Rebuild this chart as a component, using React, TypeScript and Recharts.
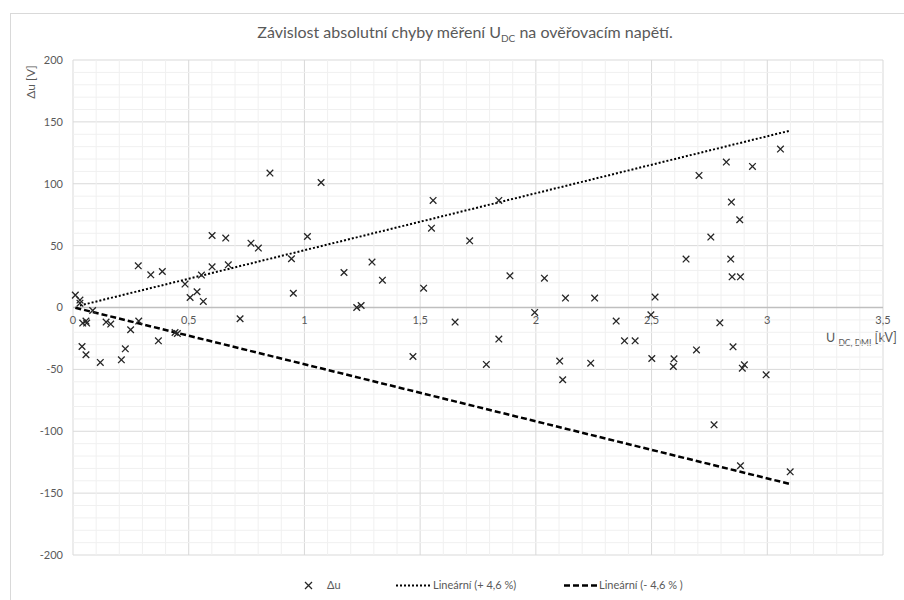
import React from 'react'
import {
  ScatterChart,
  Scatter,
  XAxis,
  YAxis,
  CartesianGrid,
  ReferenceLine,
} from 'recharts'

// measured values: U_DC,DMI [kV] and absolute error Δu [V]
const udc = [
  0.01, 0.03, 0.03, 0.085, 0.042, 0.056, 0.059, 0.143, 0.163, 0.249,
  0.284, 0.369, 0.441, 0.451, 0.039, 0.056, 0.118, 0.226, 0.209, 0.722,
  0.282, 0.336, 0.386, 0.484, 0.506, 0.536, 0.555, 0.563, 0.601, 0.601,
  0.66, 0.671, 0.769, 0.801, 0.851, 0.944, 0.952, 1.013, 1.072, 1.171,
  1.292, 1.337, 1.226, 1.245, 1.515, 1.556, 1.549, 1.714, 1.84, 1.888,
  2.037, 2.128, 2.254, 1.995, 1.651, 1.84, 1.469, 1.786, 2.103, 2.237,
  2.116, 3.057, 2.823, 2.936, 2.705, 2.845, 2.881, 2.756, 2.649, 2.842,
  2.848, 2.884, 2.515, 2.497, 2.347, 2.795, 2.383, 2.429, 2.694, 2.852,
  2.501, 2.597, 2.594, 2.892, 2.901, 2.995, 2.77, 2.884, 3.099,
]
const du = [
  10, 6, 3.5, -2.4, -12.6, -11, -12.6, -11.8, -13.4, -18,
  -11, -26.9, -20.2, -21, -31.5, -38.2, -44.4, -33.4, -42.3, -9.1,
  33.7, 26.4, 29.1, 18.9, 8.1, 12.7, 26.2, 4.9, 58.2, 32.9,
  56.1, 34.5, 52, 48, 108.6, 39.4, 11.5, 57.4, 101, 28.3,
  36.7, 22.1, 0, 1.6, 15.6, 86.5, 64.1, 53.9, 86.5, 25.6,
  23.7, 7.6, 7.6, -4, -11.8, -25.5, -39.6, -46, -43.3, -45,
  -58.4, 128, 117.5, 114, 106.7, 85.2, 70.9, 56.9, 39.1, 39.1,
  24.8, 24.8, 8.4, -5.9, -11, -12.4, -26.9, -26.9, -34.3, -31.8,
  -41.2, -41.5, -47.7, -49, -46.3, -54.4, -94.8, -127.9, -132.8,
]

// trend line end points (+4,6 % / -4,6 %)
const trendPlusX = [0.03, 3.1]
const trendPlusY = [1.6, 143]
const trendMinusX = [0.01, 3.1]
const trendMinusY = [-0.2, -142.7]

const xTicks = [0, 0.5, 1, 1.5, 2, 2.5, 3, 3.5]
const yTicks = [-200, -150, -100, -50, 0, 50, 100, 150, 200]

const xMinor: number[] = []
for (let i = 1; i < 35; i++) if (i % 5 !== 0) xMinor.push(i / 10)
const yMinor: number[] = []
for (let v = -190; v < 200; v += 10) if (v % 50 !== 0) yMinor.push(v)

const data = udc.map((x, i) => ({ x, y: du[i] }))

const FONT = 'Lato, "Open Sans", sans-serif'
const GREY = '#595959'
const PLOT_H = 495

function Cross(props: any) {
  const { cx, cy } = props
  const s = 3.3
  return (
    <path
      d={`M${cx - s},${cy - s}L${cx + s},${cy + s}M${cx - s},${cy + s}L${cx + s},${cy - s}`}
      stroke="#262626"
      strokeWidth={1.3}
      fill="none"
    />
  )
}

// x tick labels sit on the zero line, not at the bottom of the plot
function XTick(props: any) {
  const { x, y, payload } = props
  const label = String(payload.value).replace('.', ',')
  return (
    <text
      x={x}
      y={y - PLOT_H / 2}
      textAnchor="middle"
      fill={GREY}
      fontSize={11}
      fontFamily={FONT}
      dy={14}
    >
      {label}
    </text>
  )
}

export default function App() {
  return (
    <div
      style={{
        position: 'fixed',
        left: 0,
        top: 0,
        width: 904,
        height: 600,
        overflow: 'hidden',
        background: '#fff',
        fontFamily: FONT,
      }}
    >
      <div
        style={{
          position: 'absolute',
          left: 10,
          top: 13,
          width: 1000,
          height: 1000,
          border: '1px solid #d9d9d9',
        }}
      />
      <div
        style={{
          position: 'absolute',
          left: 0,
          width: 930,
          top: 22,
          textAlign: 'center',
          fontSize: 16,
          color: GREY,
        }}
      >
        Závislost absolutní chyby měření U<sub style={{ fontSize: 10 }}>DC</sub> na ověřovacím napětí.
      </div>
      <svg
        style={{ position: 'absolute', left: 0, top: 0 }}
        width={60}
        height={130}
      >
        <text
          x={30}
          y={82}
          transform="rotate(-90 30 82)"
          textAnchor="middle"
          dominantBaseline="central"
          fontSize={12}
          fontFamily={FONT}
          fill={GREY}
        >
          Δu [V]
        </text>
      </svg>
      <div
        style={{
          position: 'absolute',
          left: 826,
          top: 330,
          fontSize: 12.5,
          color: GREY,
          whiteSpace: 'nowrap',
        }}
      >
        U <sub style={{ fontSize: 8.5 }}>DC, DMI</sub> [kV]
      </div>
      <ScatterChart
        width={904}
        height={600}
        margin={{ top: 60, right: 21, bottom: 25, left: 13 }}
      >
        {xMinor.map((v) => (
          <ReferenceLine key={'xm' + v} x={v} stroke="#f0f0f0" strokeWidth={1} />
        ))}
        {yMinor.map((v) => (
          <ReferenceLine key={'ym' + v} y={v} stroke="#f0f0f0" strokeWidth={1} />
        ))}
        <CartesianGrid stroke="#d9d9d9" strokeWidth={1} />
        <XAxis
          type="number"
          dataKey="x"
          domain={[0, 3.5]}
          ticks={xTicks}
          axisLine={false}
          tickLine={false}
          tickSize={0}
          height={20}
          tick={<XTick />}
          interval={0}
        />
        <YAxis
          type="number"
          dataKey="y"
          domain={[-200, 200]}
          ticks={yTicks}
          axisLine={false}
          tickLine={false}
          tickSize={0}
          tickMargin={10}
          width={60}
          interval={0}
          tick={{ fill: GREY, fontSize: 11, fontFamily: FONT }}
        />
        <ReferenceLine y={0} stroke="#bfbfbf" strokeWidth={1.5} />
        <ReferenceLine
          segment={[
            { x: trendPlusX[0], y: trendPlusY[0] },
            { x: trendPlusX[1], y: trendPlusY[1] },
          ]}
          stroke="#000"
          strokeWidth={2}
          strokeDasharray="2 2"
        />
        <ReferenceLine
          segment={[
            { x: trendMinusX[0], y: trendMinusY[0] },
            { x: trendMinusX[1], y: trendMinusY[1] },
          ]}
          stroke="#000"
          strokeWidth={2.5}
          strokeDasharray="6 3"
        />
        <Scatter data={data} shape={<Cross />} isAnimationActive={false} />
      </ScatterChart>
      <div
        style={{
          position: 'absolute',
          top: 578,
          left: 0,
          width: 904,
          height: 14,
          fontSize: 11,
          color: GREY,
        }}
      >
        <svg style={{ position: 'absolute', left: 304, top: 3 }} width={9} height={9}>
          <path d="M1,1L8,8M1,8L8,1" stroke="#262626" strokeWidth={1.3} />
        </svg>
        <span style={{ position: 'absolute', left: 327, top: 0 }}>Δu</span>
        <svg style={{ position: 'absolute', left: 396, top: 6 }} width={35} height={3}>
          <line x1={0} y1={1.5} x2={35} y2={1.5} stroke="#000" strokeWidth={2} strokeDasharray="2 2" />
        </svg>
        <span style={{ position: 'absolute', left: 433, top: 0 }}>Lineární (+ 4,6 %)</span>
        <svg style={{ position: 'absolute', left: 564, top: 6 }} width={34} height={3}>
          <line x1={0} y1={1.5} x2={34} y2={1.5} stroke="#000" strokeWidth={2.5} strokeDasharray="6 3" />
        </svg>
        <span style={{ position: 'absolute', left: 599, top: 0 }}>Lineární (- 4,6 % )</span>
      </div>
    </div>
  )
}
